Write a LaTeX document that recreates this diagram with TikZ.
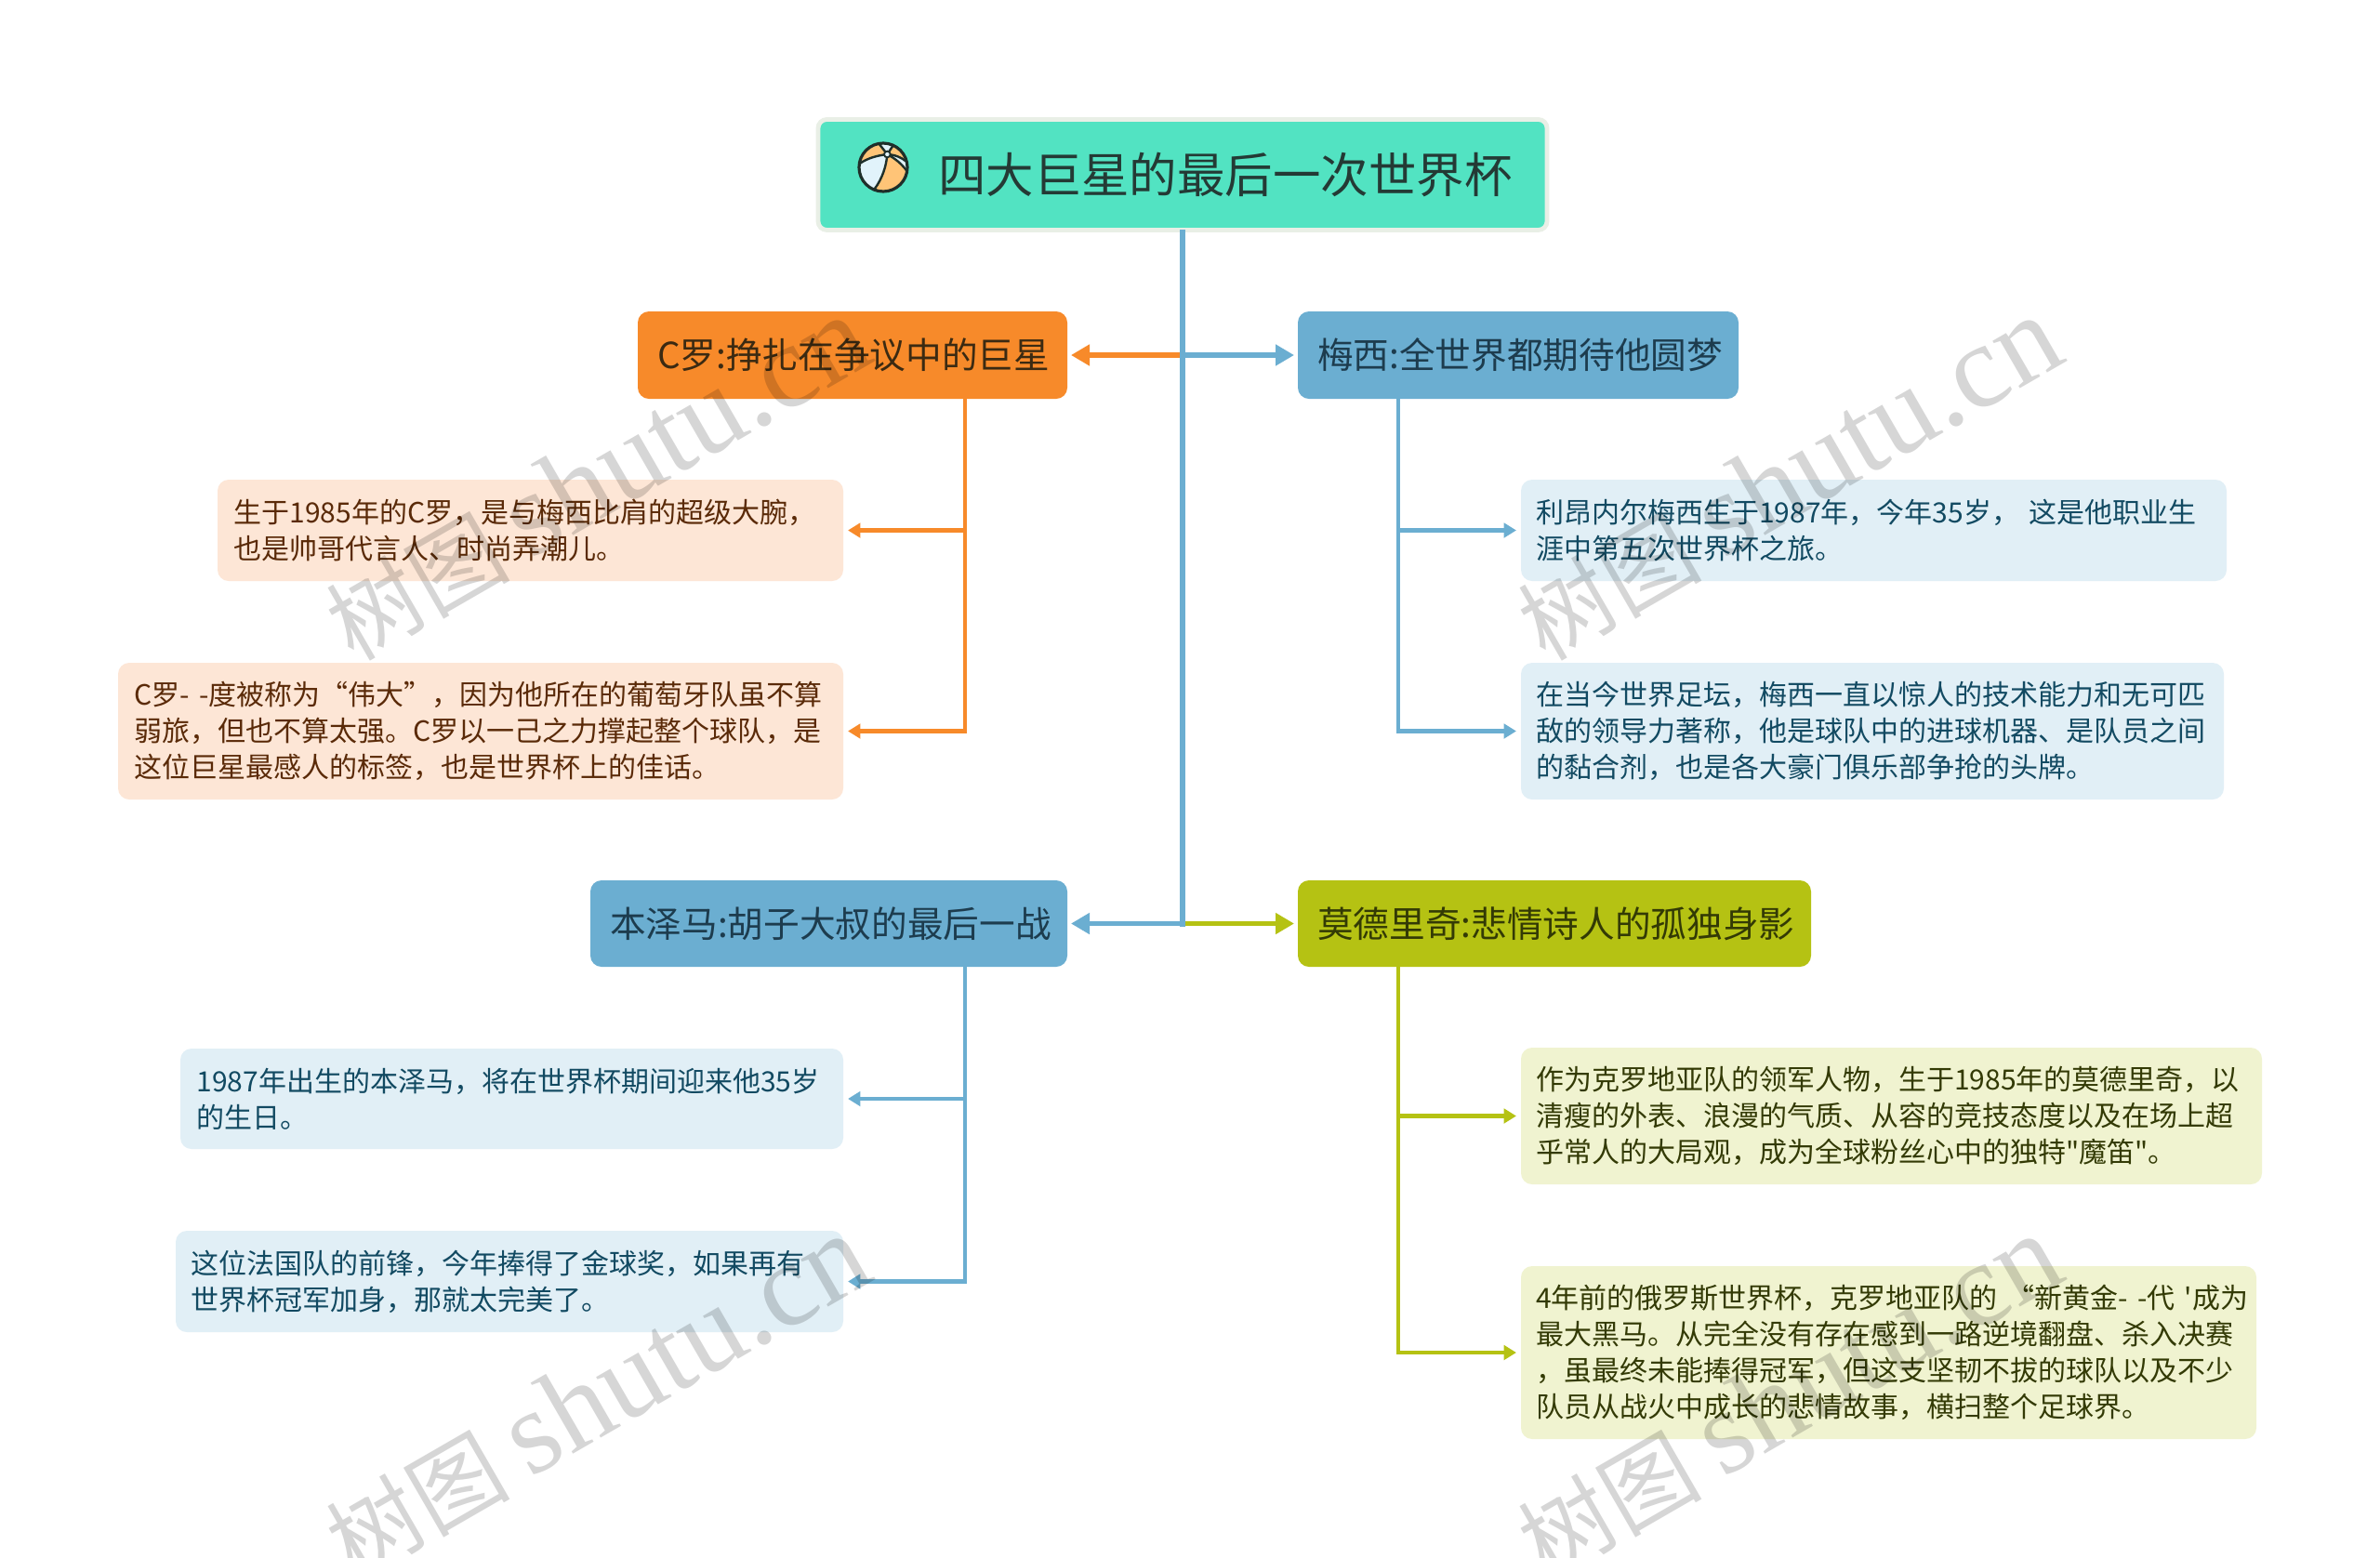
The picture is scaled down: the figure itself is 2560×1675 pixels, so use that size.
\documentclass[tikz,border=0pt]{standalone}
\usepackage{fontspec}
\setmainfont[Ligatures=TeXOff]{Noto Sans CJK SC}
\newfontfamily\wmlatin{Liberation Serif}
\usetikzlibrary{arrows.meta,calc}
\definecolor{titlefill}{HTML}{52E3C2}
\definecolor{titleedge}{HTML}{E9EFE6}
\definecolor{titleink}{HTML}{243A35}
\definecolor{cOrange}{HTML}{F78A2A}
\definecolor{cBlue}{HTML}{6BAED1}
\definecolor{cOlive}{HTML}{B5C213}
\definecolor{lOrange}{HTML}{FDE6D6}
\definecolor{lBlue}{HTML}{E1EFF6}
\definecolor{lOlive}{HTML}{F0F3D0}
\definecolor{inkOrange}{HTML}{5A2A08}
\definecolor{inkBlue}{HTML}{124A62}
\definecolor{inkOlive}{HTML}{333A05}
\definecolor{inkBranchO}{HTML}{3B2A12}
\definecolor{inkBranchB}{HTML}{1D3C4E}
\definecolor{ballOrange}{HTML}{FFC477}
\definecolor{ballLight}{HTML}{E1F3FB}
\definecolor{ballLine}{HTML}{1F2F2A}
\tikzset{
  boxbase/.style={anchor=north west,rounded corners=4.5pt,inner ysep=0pt,outer sep=0pt,align=left},
  titlebox/.style={boxbase,fill=titlefill,draw=titleedge,line width=1.8pt,rounded corners=3.5pt,inner xsep=0pt,text=titleink,font=\fontsize{19.3}{24}\selectfont},
  branchbox/.style={boxbase,font=\fontsize{14.5}{18}\selectfont},
  brO/.style={branchbox,fill=cOrange,text=inkBranchO},
  brB/.style={branchbox,fill=cBlue,text=inkBranchB},
  brY/.style={branchbox,fill=cOlive,text=inkOlive},
  leafbox/.style={boxbase,font=\fontsize{11.25}{14.625}\selectfont},
  lfO/.style={leafbox,fill=lOrange,text=inkOrange},
  lfB/.style={leafbox,fill=lBlue,text=inkBlue},
  lfY/.style={leafbox,fill=lOlive,text=inkOlive},
  trunkline/.style={line width=2.6pt,draw=cBlue},
  mainarrow/.style={line width=2.1pt,-{Triangle[length=7.5pt,width=8.2pt]},shorten >=1.5pt},
  leafarrow/.style={line width=1.6pt,-{Triangle[length=5pt,width=5.8pt]},shorten >=1.9pt},
  wmark/.style={rotate=30,text=black,text opacity=0.16,font=\fontsize{37}{50}\selectfont},
}
\def\bxpad{7}
\newcommand{\bx}[7]{%
  \pgfmathsetmacro\bxw{(#4-#2)*0.375}%
  \pgfmathsetmacro\bxh{(#5-#3)*0.375}%
  \pgfmathsetmacro\bxt{\bxw-2*\bxpad}%
  \node[#6,minimum width=\bxw pt,minimum height=\bxh pt,text width=\bxt pt,inner xsep=\bxpad pt] (#1) at (#2,#3) {#7};}
\newcommand{\wm}{树图 {\wmlatin\fontsize{48}{50}\selectfont shutu.cn}}
\begin{document}
\begin{tikzpicture}[x=0.375pt,y=-0.375pt]
\useasboundingbox (0,0) rectangle (2560,1675);
\fill[white] (0,0) rectangle (2560,1675);

% title
\node[titlebox,minimum width=294pt,minimum height=44.6pt,text width=294pt] (title) at (880,128.5) {\hspace*{48.4pt}四大巨星的最后一次世界杯};

% ball icon
\begin{scope}[shift={(910,140)},x=0.125pt,y=-0.125pt]
  \begin{scope}
    \clip (120,120) circle (78);
    \fill[ballLight] (120,120) circle (78);
    \fill[ballOrange] (133,78) -- (100,30) -- (30,30) -- (30,108) .. controls (70,88) and (105,80) .. (133,78) -- cycle;
    \fill[ballOrange] (133,78) .. controls (130,115) and (118,155) .. (92,195) -- (200,195) -- (195,128) .. controls (180,110) and (160,92) .. (133,78) -- cycle;
    \fill[ballOrange] (133,78) -- (155,40) -- (205,40) -- (195,100) .. controls (180,88) and (160,80) .. (133,78) -- cycle;
    \draw[ballLine,line width=0.9pt] (133,78) -- (105,42);
    \draw[ballLine,line width=0.9pt] (133,78) -- (155,45);
    \draw[ballLine,line width=0.9pt] (133,78) .. controls (100,82) and (70,90) .. (44,108);
    \draw[ballLine,line width=0.9pt] (133,78) .. controls (130,115) and (118,155) .. (92,190);
    \draw[ballLine,line width=0.9pt] (133,78) .. controls (160,92) and (180,110) .. (195,130);
    \draw[ballLine,line width=0.9pt] (133,78) .. controls (160,80) and (178,88) .. (193,100);
  \end{scope}
  \draw[ballLine,line width=1.2pt] (120,120) circle (78);
  \filldraw[fill=ballLight,draw=ballLine,line width=0.7pt] (133,78) circle (10);
\end{scope}

% branches
\def\bxpad{7.9}
\bx{cr}{686}{335}{1148}{429}{brO}{C罗:挣扎在争议中的巨星}
\bx{mx}{1396}{335}{1870}{429}{brB}{梅西:全世界都期待他圆梦}
\bx{bz}{635}{947}{1148}{1040}{brB}{本泽马:胡子大叔的最后一战}
\bx{md}{1396}{947}{1948}{1040}{brY}{莫德里奇:悲情诗人的孤独身影}

% leaves
\def\bxpad{6.6}
\bx{c1}{234}{516}{907}{625}{lfO}{生于1985年的C罗，是与梅西比肩的超级大腕，\\也是帅哥代言人、时尚弄潮儿。}
\bx{c2}{127}{713}{907}{860}{lfO}{\mbox{C罗-~-度被称为“伟大”，因为他所在的葡萄牙队虽不算}\\弱旅，但也不算太强。C罗以一己之力撑起整个球队，是\\这位巨星最感人的标签，也是世界杯上的佳话。}
\bx{b1}{194}{1128}{907}{1236}{lfB}{1987年出生的本泽马，将在世界杯期间迎来他35岁\\的生日。}
\def\bxpad{6.1}
\bx{m1}{1636}{516}{2395}{625}{lfB}{利昂内尔梅西生于1987年，今年35岁，~这是他职业生\\涯中第五次世界杯之旅。}
\bx{m2}{1636}{713}{2392}{860}{lfB}{在当今世界足坛，梅西一直以惊人的技术能力和无可匹\\敌的领导力著称，他是球队中的进球机器、是队员之间\\的黏合剂，也是各大豪门俱乐部争抢的头牌。}
\bx{b2}{189}{1324}{907}{1433}{lfB}{这位法国队的前锋，今年捧得了金球奖，如果再有\\世界杯冠军加身，那就太完美了。}
\bx{d1}{1636}{1127}{2433}{1274}{lfY}{作为克罗地亚队的领军人物，生于1985年的莫德里奇，以\\清瘦的外表、浪漫的气质、从容的竞技态度以及在场上超\\乎常人的大局观，成为全球粉丝心中的独特"魔笛"。}
\bx{d2}{1636}{1362}{2427}{1548}{lfY}{\mbox{4年前的俄罗斯世界杯，克罗地亚队的~“新黄金-~-代~'成为}\\最大黑马。从完全没有存在感到一路逆境翻盘、杀入决赛\\，虽最终未能捧得冠军，但这支坚韧不拔的球队以及不少\\队员从战火中成长的悲情故事，横扫整个足球界。}

% bus start points
\coordinate (crbus) at (1038,429);
\coordinate (mxbus) at (1504,429);
\coordinate (bzbus) at (1038,1040);
\coordinate (mdbus) at (1504,1040);
\coordinate (trunktop) at (title.south);
\coordinate (trunkend) at ($(title.south |- bz.east)+(0,3)$);

% connectors
\draw[mainarrow,draw=cOrange] (title.south |- cr.east) -- (cr.east);
\draw[mainarrow,draw=cBlue] (title.south |- mx.west) -- (mx.west);
\draw[mainarrow,draw=cBlue] (title.south |- bz.east) -- (bz.east);
\draw[mainarrow,draw=cOlive] (title.south |- md.west) -- (md.west);
\draw[trunkline] (trunktop) -- (trunkend);

\draw[leafarrow,draw=cOrange] (crbus) |- (c1.east);
\draw[leafarrow,draw=cOrange] (crbus) |- (c2.east);
\draw[leafarrow,draw=cBlue] (mxbus) |- (m1.west);
\draw[leafarrow,draw=cBlue] (mxbus) |- (m2.west);
\draw[leafarrow,draw=cBlue] (bzbus) |- (b1.east);
\draw[leafarrow,draw=cBlue] (bzbus) |- (b2.east);
\draw[leafarrow,draw=cOlive] (mdbus) |- (d1.west);
\draw[leafarrow,draw=cOlive] (mdbus) |- (d2.west);

% watermarks
\begin{scope}
  \clip (0,0) rectangle (2560,1675);
  \node[wmark] (w1) at (642,515) {\wm};
  \node[wmark] (w2) at (1924,515) {\wm};
  \node[wmark] (w3) at (642,1503) {\wm};
  \node[wmark] (w4) at (1924,1503) {\wm};
\end{scope}
\end{tikzpicture}
\end{document}
